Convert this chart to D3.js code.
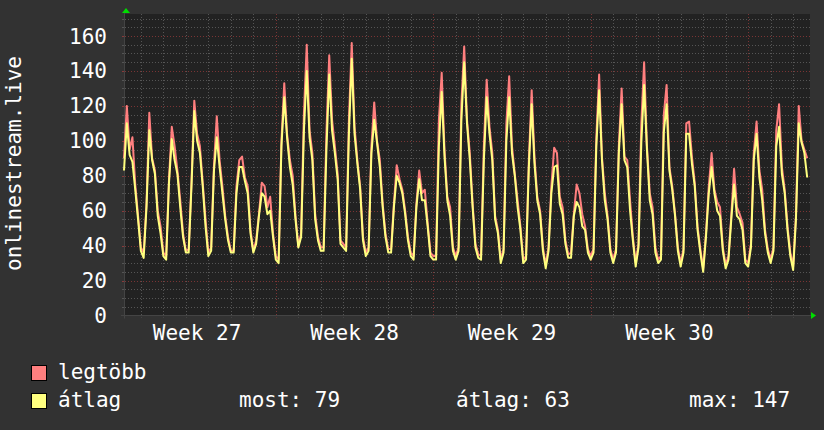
<!DOCTYPE html>
<html><head><meta charset="utf-8">
<script src="https://cdn.jsdelivr.net/npm/d3@7"></script>
<style>html,body{margin:0;padding:0;background:#323232;} svg{display:block;}</style>
</head><body>
<svg id="c" width="824" height="430"></svg>
<script>
// time of sample i (in days from Monday of week 27) = startDay + i*stepDays
const startDay = 0.25, stepDays = 0.125;
const avgSeries = [
 83,110,92,88,72,55,
 37,33,62,106,89,81,57,47,
 34,32,76,101,89,81,62,45,
 36,36,74,117,100,93,74,51,
 34,37,83,102,85,70,55,43,
 36,36,70,85,85,77,70,47,
 36,41,57,70,68,58,60,45,
 32,30,97,125,102,85,75,55,
 39,45,106,140,102,89,55,43,
 37,37,95,138,106,93,78,41,
 39,37,104,147,104,87,72,43,
 34,37,93,112,99,85,62,45,
 36,36,62,80,76,70,58,43,
 34,32,62,78,66,66,51,34,
 32,32,97,128,91,66,57,37,
 32,37,112,145,110,89,62,39,
 33,32,89,125,104,89,55,47,
 30,36,100,125,93,80,62,49,
 30,32,85,121,87,66,58,37,
 27,37,70,85,86,64,58,41,
 33,33,57,65,62,51,49,36,
 32,36,97,129,89,66,55,36,
 30,36,93,121,89,85,60,43,
 28,39,99,132,95,66,58,36,
 30,32,105,121,83,72,57,37,
 28,36,104,104,87,74,49,36,
 25,45,70,85,70,60,57,37,
 27,32,55,75,57,55,49,30,
 28,39,89,104,79,66,47,36,
 30,37,97,108,81,70,49,34,
 26,55,110,99,93,79
];
const maxSeries = [
 90,120,95,102,75,57,
 39,36,64,116,90,83,60,51,
 36,34,78,108,97,83,66,47,
 37,38,76,123,104,97,76,55,
 36,39,86,114,89,74,57,45,
 37,37,74,89,91,79,74,49,
 37,43,58,76,74,62,68,47,
 34,32,100,133,104,89,80,57,
 40,47,116,155,106,93,58,45,
 39,39,105,149,112,97,81,43,
 41,39,112,156,108,89,74,45,
 36,39,97,122,100,89,64,47,
 38,38,64,86,78,72,60,45,
 36,34,64,83,70,72,53,36,
 34,34,112,139,95,68,62,39,
 34,39,121,154,112,93,64,41,
 35,34,97,135,108,93,57,49,
 32,38,110,137,97,81,66,51,
 32,34,89,129,91,68,60,39,
 29,39,74,96,93,68,62,43,
 35,36,58,75,70,58,51,38,
 34,38,102,138,91,70,57,38,
 32,38,97,130,91,89,66,45,
 30,41,110,145,97,70,62,39,
 32,34,115,132,85,74,58,39,
 30,38,110,111,91,76,51,38,
 27,47,74,93,72,65,62,39,
 29,34,57,84,62,58,53,32,
 30,41,93,111,83,72,49,38,
 32,39,106,121,85,72,51,36,
 28,57,120,100,95,90
];
const yTicks = [0,20,40,60,80,100,120,140,160];
const weekLabels = ["Week 27","Week 28","Week 29","Week 30"];
const weekStarts = [0,7,14,21];
const legendNames = ["legtöbb","átlag"];
const legendColors = ["#ff7f7f","#ffff7f"];
const statLabels = ["most: 79","átlag: 63","max: 147"];

const svg = d3.select("#c");
const L = 124, R = 810, T = 14, B = 315.5;
const x = d3.scaleLinear().domain([0.25, 30.75]).range([L, R]);
const y = d3.scaleLinear().domain([0, 172.6]).range([B, T]);
const font = "'DejaVu Sans Mono', monospace";

svg.append("rect").attr("width",824).attr("height",430).attr("fill","#323232");
svg.append("rect").attr("x",L).attr("y",T).attr("width",R-L).attr("height",B-T).attr("fill","#222222");

const g = svg.append("g");
const cy = v => Math.round(y(v)) + 0.5;
const cx = v => Math.round(x(v)) + 0.5;
// horizontal grid
d3.range(5, 172, 5).forEach(v => {
  const major = v % 20 === 0;
  g.append("line").attr("x1",L-2).attr("x2",R).attr("y1",cy(v)).attr("y2",cy(v))
   .attr("stroke", major ? "#7a3434" : "#555555").attr("stroke-width",1)
   .attr("stroke-dasharray","1,2");
  g.append("line").attr("x1",L-2).attr("x2",L+1).attr("y1",cy(v)).attr("y2",cy(v))
   .attr("stroke", major ? "#8a3a3a" : "#555555");
});
// vertical grid
d3.range(1, 31).forEach(d => {
  const major = d % 7 === 0;
  g.append("line").attr("x1",cx(d)).attr("x2",cx(d)).attr("y1",T).attr("y2",B+2)
   .attr("stroke", major ? "#7a3434" : "#555555").attr("stroke-width",1)
   .attr("stroke-dasharray","1,2");
});
// axes
g.append("line").attr("x1",L-3).attr("x2",R+2).attr("y1",315.5).attr("y2",315.5).attr("stroke","#444444");
g.append("line").attr("x1",L+0.5).attr("x2",L+0.5).attr("y1",T-2).attr("y2",B+3).attr("stroke","#444444");
// arrows
svg.append("path").attr("d",`M${L-2},13 L${L+6},13 L${L+2},8 Z`).attr("fill","#00dd00");
svg.append("path").attr("d",`M811,312 L811,319 L816,315.5 Z`).attr("fill","#00dd00");

// lines
const line = d3.line().x((v,i) => x(startDay + i*stepDays)).y(v => y(v));
svg.append("path").datum(maxSeries).attr("d", line).attr("fill","none")
  .attr("stroke", legendColors[0]).attr("stroke-width",2).attr("stroke-linejoin","round");
svg.append("path").datum(avgSeries).attr("d", line).attr("fill","none")
  .attr("stroke", legendColors[1]).attr("stroke-width",2).attr("stroke-linejoin","round");

// y labels
svg.selectAll(".yl").data(yTicks).enter().append("text")
  .attr("x",107).attr("y",v => y(v) + 7.5).attr("text-anchor","end")
  .attr("font-family",font).attr("font-size",21).attr("fill","#ffffff").text(v => v);
// week labels
svg.selectAll(".wl").data(weekLabels).enter().append("text")
  .attr("x",(w,i) => x(weekStarts[i] + 3.5)).attr("y",340).attr("text-anchor","middle")
  .attr("font-family",font).attr("font-size",21).attr("fill","#ffffff").text(w => w);
// y title
svg.append("text").attr("transform","translate(21,163.5) rotate(-90)").attr("text-anchor","middle")
  .attr("font-family",font).attr("font-size",21).attr("fill","#ffffff").text("onlinestream.live");
// legend
legendNames.forEach((n,i) => {
  svg.append("rect").attr("x",31.5).attr("y",365.5 + i*28).attr("width",15).attr("height",15)
    .attr("fill",legendColors[i]).attr("stroke","#000000").attr("stroke-width",1);
  svg.append("text").attr("x",58).attr("y",378.5 + i*28)
    .attr("font-family",font).attr("font-size",21).attr("fill","#ffffff").text(n);
});
const statX = [239, 456, 689];
statLabels.forEach((s,i) => {
  svg.append("text").attr("x",statX[i]).attr("y",406.5)
    .attr("font-family",font).attr("font-size",21).attr("fill","#ffffff").text(s);
});
</script>
</body></html>
